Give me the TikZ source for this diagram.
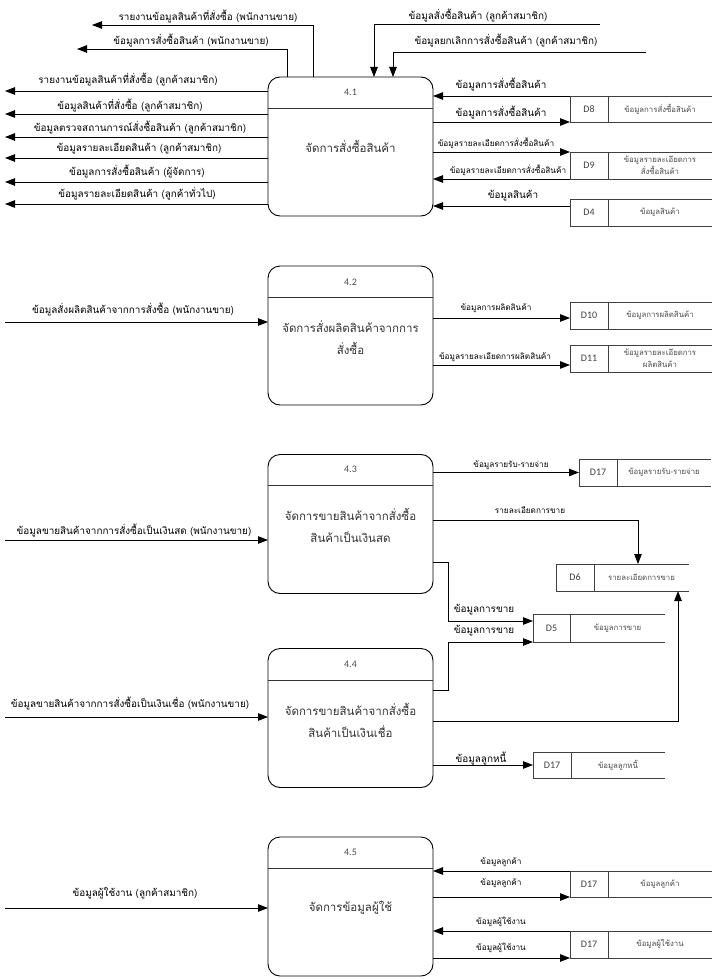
\documentclass[tikz,border=0pt]{standalone}
\usepackage{fontspec}
\setmainfont{Loma}[Script=Thai]
\newfontfamily\idfont{Carlito}
\usetikzlibrary{arrows.meta}

% data store: #1 name, #2 left x, #3 divider x, #4 right end x, #5 top y, #6 bottom y, #7 id, #8 title
\newcommand\dstore[8]{%
  \node[sid, minimum width={#3-#2}, minimum height={#6-#5}, anchor=north west] (#1) at (#2,#5) {#7};
  \node[stitle] (#1t) at ({(#3+#4)/2},{(#5+#6)/2}) {#8};
  \draw[sline] (#4,#5) -- (#1.north west) -- (#1.south west) -- (#4,#6);
  \draw[sline] (#1.north east) -- (#1.south east);
}

\begin{document}
\begin{tikzpicture}[x=1pt,y=-1pt,
  proc/.style={draw=black, line width=0.9pt, rounded corners=12pt,
    minimum width=165pt, minimum height=139pt, inner sep=0pt, outer sep=0pt},
  hdr/.style={draw=black!80, line width=0.9pt},
  pnum/.style={font=\idfont\fontsize{10}{12}\selectfont, text=black!70, inner sep=0pt},
  pname/.style={font=\fontsize{11.5}{22}\selectfont, text=black!80, inner sep=0pt, align=center},
  flow/.style={draw=black, line width=0.9pt, -{Triangle[length=10pt,width=7.5pt]}},
  lbl/.style={font=\fontsize{9.9}{11}\selectfont, inner sep=0pt},
  slbl/.style={font=\fontsize{8.2}{9}\selectfont, inner sep=0pt},
  sid/.style={font=\idfont\fontsize{10}{12}\selectfont, text=black!75, inner sep=0pt, outer sep=0pt},
  stitle/.style={font=\fontsize{7.8}{12}\selectfont, text=black!70, inner sep=0pt, align=center},
  sline/.style={draw=black!75, line width=0.9pt}]

\useasboundingbox[fill=white] (0,0) rectangle (713,979);

% ---------------- 4.1 ----------------
\node[proc] (p1) at (350.5,146.5) {};
\draw[hdr] (p1.west |- 0,108) -- (p1.east |- 0,108);
\node[pnum] (p1n) at (350.5,92) {4.1};
\node[pname] (p1t) at (350.5,146) {จัดการสั่งซื้อสินค้า};

\coordinate (o1) at (92,25);
\coordinate (o2) at (77,49);
\draw[flow] (p1.north -| 313,0) |- (o1);
\draw[flow] (p1.north -| 287,0) |- (o2);
\node[lbl] (lo1) at (208,17) {รายงานข้อมูลสินค้าที่สั่งซื้อ (พนักงานขาย)};
\node[lbl] (lo2) at (191,41) {ข้อมูลการสั่งซื้อสินค้า (พนักงานขาย)};

\coordinate (o3) at (5,91);
\coordinate (o4) at (5,114);
\coordinate (o5) at (5,137);
\coordinate (o6) at (5,158);
\coordinate (o7) at (5,182);
\coordinate (o8) at (5,204);
\foreach \c in {o3,o4,o5,o6,o7,o8}{\draw[flow] (p1.west |- \c) -- (\c);}
\node[lbl] (lo3) at (128,80) {รายงานข้อมูลสินค้าที่สั่งซื้อ (ลูกค้าสมาชิก)};
\node[lbl] (lo4) at (130,106) {ข้อมูลสินค้าที่สั่งซื้อ (ลูกค้าสมาชิก)};
\node[lbl] (lo5) at (140,128) {ข้อมูลตรวจสถานการณ์สั่งซื้อสินค้า (ลูกค้าสมาชิก)};
\node[lbl] (lo6) at (139,149) {ข้อมูลรายละเอียดสินค้า (ลูกค้าสมาชิก)};
\node[lbl] (lo7) at (137,172) {ข้อมูลการสั่งซื้อสินค้า (ผู้จัดการ)};
\node[lbl] (lo8) at (137,194) {ข้อมูลรายละเอียดสินค้า (ลูกค้าทั่วไป)};

\coordinate (i1) at (600,24);
\coordinate (i2) at (646,52);
\draw[flow] (i1) -| (p1.north -| 374,0);
\draw[flow] (i2) -| (p1.north -| 393,0);
\node[lbl] (li1) at (478,16) {ข้อมูลสั่งซื้อสินค้า (ลูกค้าสมาชิก)};
\node[lbl] (li2) at (506,41) {ข้อมูลยกเลิกการสั่งซื้อสินค้า (ลูกค้าสมาชิก)};

\dstore{d8}{570}{608}{712}{96}{122}{D8}{ข้อมูลการสั่งซื้อสินค้า}
\draw[flow] (d8.north west) -- (p1.east |- d8.north west);
\draw[flow] (p1.east |- d8.south west) -- (d8.south west);
\node[lbl] (l81) at (501,85) {ข้อมูลการสั่งซื้อสินค้า};
\node[lbl] (l82) at (501,113) {ข้อมูลการสั่งซื้อสินค้า};

\dstore{d9}{570}{608}{712}{152}{179}{D9}{ข้อมูลรายละเอียดการ\\สั่งซื้อสินค้า}
\draw[flow] (p1.east |- d9.north west) -- (d9.north west);
\draw[flow] (d9.south west) -- (p1.east |- d9.south west);
\node[slbl] (l91) at (496,143) {ข้อมูลรายละเอียดการสั่งซื้อสินค้า};
\node[slbl] (l92) at (508,170) {ข้อมูลรายละเอียดการสั่งซื้อสินค้า};

\dstore{d4}{570}{608}{712}{199}{226}{D4}{ข้อมูลสินค้า}
\draw[flow] (d4.west |- 0,206) -- (p1.east |- 0,206);
\node[lbl] (l41) at (513,196) {ข้อมูลสินค้า};

% ---------------- 4.2 ----------------
\node[proc] (p2) at (350.5,335.5) {};
\draw[hdr] (p2.west |- 0,297) -- (p2.east |- 0,297);
\node[pnum] (p2n) at (350.5,282) {4.2};
\node[pname] (p2t) at (350.5,338) {จัดการสั่งผลิตสินค้าจากการ\\สั่งซื้อ};

\coordinate (i3) at (5,322);
\draw[flow] (i3) -- (p2.west |- i3);
\node[lbl] (li3) at (133,310) {ข้อมูลสั่งผลิตสินค้าจากการสั่งซื้อ (พนักงานขาย)};

\dstore{d10}{570}{608}{712}{302}{329}{D10}{ข้อมูลการผลิตสินค้า}
\draw[flow] (p2.east |- 0,318) -- (d10.west |- 0,318);
\node[slbl] (l101) at (496,308) {ข้อมูลการผลิตสินค้า};

\dstore{d11}{570}{608}{712}{345}{372}{D11}{ข้อมูลรายละเอียดการ\\ผลิตสินค้า}
\draw[flow] (p2.east |- 0,365) -- (d11.west |- 0,365);
\node[slbl] (l111) at (495,357) {ข้อมูลรายละเอียดการผลิตสินค้า};

% ---------------- 4.3 ----------------
\node[proc] (p3) at (350.5,524) {};
\draw[hdr] (p3.west |- 0,485) -- (p3.east |- 0,485);
\node[pnum] (p3n) at (350.5,469) {4.3};
\node[pname] (p3t) at (350.5,525.5) {จัดการขายสินค้าจากสั่งซื้อ\\สินค้าเป็นเงินสด};

\coordinate (i4) at (5,540);
\draw[flow] (i4) -- (p3.west |- i4);
\node[lbl] (li4) at (134,531) {ข้อมูลขายสินค้าจากการสั่งซื้อเป็นเงินสด (พนักงานขาย)};

\dstore{d17a}{579}{617}{711}{459}{486}{D17}{ข้อมูลรายรับ-รายจ่าย}
\draw[flow] (p3.east |- d17a.west) -- (d17a.west);
\node[slbl] (l17a) at (511,465) {ข้อมูลรายรับ-รายจ่าย};

\dstore{d6}{556}{594}{689}{564}{591}{D6}{รายละเอียดการขาย}
\draw[flow] (p3.east |- 0,520) -| (d6.north -| 638,0);
\node[slbl] (l6) at (530,510) {รายละเอียดการขาย};

\dstore{d5}{533}{570}{665}{614}{642}{D5}{ข้อมูลการขาย}
\draw[flow] (p3.east |- 0,562) -| (448,621) -- (d5.west |- 0,621);
\node[lbl] (l51) at (484,610) {ข้อมูลการขาย};

% ---------------- 4.4 ----------------
\node[proc] (p4) at (350.5,718) {};
\draw[hdr] (p4.west |- 0,680) -- (p4.east |- 0,680);
\node[pnum] (p4n) at (350.5,664) {4.4};
\node[pname] (p4t) at (350.5,720) {จัดการขายสินค้าจากสั่งซื้อ\\สินค้าเป็นเงินเชื่อ};

\draw[flow] (p4.east |- 0,690) -| (448,642) -- (d5.south west);
\node[lbl] (l52) at (484,631) {ข้อมูลการขาย};
\draw[flow] (p4.east |- 0,721) -| (d6.south -| 678,0);

\coordinate (i5) at (5,717);
\draw[flow] (i5) -- (p4.west |- i5);
\node[lbl] (li5) at (130,704) {ข้อมูลขายสินค้าจากการสั่งซื้อเป็นเงินเชื่อ (พนักงานขาย)};

\dstore{d17b}{533}{571}{665}{752}{778}{D17}{ข้อมูลลูกหนี้}
\draw[flow] (p4.east |- d17b.west) -- (d17b.west);
\node[lbl] (l17b) at (481,759) {ข้อมูลลูกหนี้};

% ---------------- 4.5 ----------------
\node[proc] (p5) at (350.5,906.5) {};
\draw[hdr] (p5.west |- 0,868) -- (p5.east |- 0,868);
\node[pnum] (p5n) at (350.5,852) {4.5};
\node[pname] (p5t) at (350.5,908) {จัดการข้อมูลผู้ใช้};

\coordinate (i6) at (5,908);
\draw[flow] (i6) -- (p5.west |- i6);
\node[lbl] (li6) at (135,893) {ข้อมูลผู้ใช้งาน (ลูกค้าสมาชิก)};

\dstore{d17c}{570}{608}{712}{871}{897}{D17}{ข้อมูลลูกค้า}
\draw[flow] (d17c.north west) -- (p5.east |- d17c.north west);
\draw[flow] (p5.east |- d17c.south west) -- (d17c.south west);
\node[slbl] (l17c1) at (501,862) {ข้อมูลลูกค้า};
\node[slbl] (l17c2) at (501,883) {ข้อมูลลูกค้า};

\dstore{d17d}{570}{608}{712}{931}{958}{D17}{ข้อมูลผู้ใช้งาน}
\draw[flow] (d17d.north west) -- (p5.east |- d17d.north west);
\draw[flow] (p5.east |- d17d.south west) -- (d17d.south west);
\node[slbl] (l17d1) at (501,922) {ข้อมูลผู้ใช้งาน};
\node[slbl] (l17d2) at (501,948) {ข้อมูลผู้ใช้งาน};

\end{tikzpicture}
\end{document}
